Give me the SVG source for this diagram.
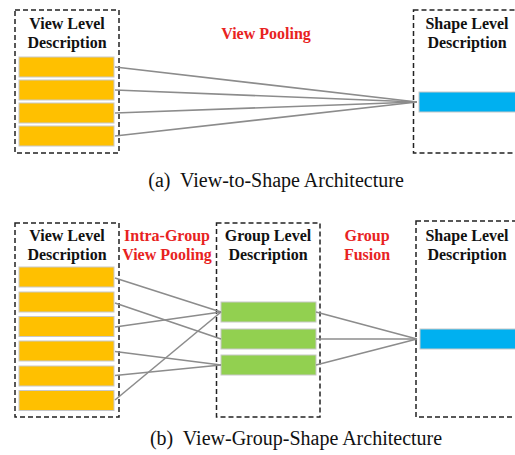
<svg xmlns="http://www.w3.org/2000/svg" width="515" height="455" viewBox="0 0 515 455">
<style>
.box{fill:none;stroke:#222;stroke-width:1.5;stroke-dasharray:5 3}
.v{fill:#FFC000;stroke:#c8c8c8;stroke-width:1}
.g{fill:#92D050;stroke:#c8c8c8;stroke-width:1}
.s{fill:#00B0F0;stroke:#c8c8c8;stroke-width:1}
.lbl{font-family:"Liberation Serif",serif;font-weight:bold;font-size:16px;fill:#111;text-anchor:middle}
.red{font-family:"Liberation Serif",serif;font-weight:bold;font-size:16px;fill:#E8231F;text-anchor:middle}
.cap{font-family:"Liberation Serif",serif;font-size:20px;fill:#111;text-anchor:middle}
.ln{stroke:#8c8c8c;stroke-width:1.6;fill:none}
</style>
<rect width="515" height="455" fill="#fff"/>
<!-- panel a -->
<g id="view-a">
<rect class="box" x="15" y="10" width="104" height="143"/>
<text class="lbl" x="67" y="29">View Level</text>
<text class="lbl" x="67" y="48">Description</text>
<rect class="v" x="19" y="57" width="95" height="20"/>
<rect class="v" x="19" y="80" width="95" height="20"/>
<rect class="v" x="19" y="103" width="95" height="20"/>
<rect class="v" x="19" y="126" width="95" height="20"/>
</g>
<g id="shape-a">
<rect class="box" x="413.5" y="10" width="110" height="143"/>
<text class="lbl" x="467" y="29">Shape Level</text>
<text class="lbl" x="467" y="48">Description</text>
<rect class="s" x="419" y="92" width="100" height="20"/>
</g>
<g id="label-a">
<text class="red" x="266" y="39">View Pooling</text>
</g>
<g id="connectors-a">
<line class="ln" x1="115" y1="67" x2="417" y2="102"/>
<line class="ln" x1="115" y1="90" x2="417" y2="102"/>
<line class="ln" x1="115" y1="113" x2="417" y2="102"/>
<line class="ln" x1="115" y1="136" x2="417" y2="102"/>
</g>
<text class="cap" x="276" y="187" xml:space="preserve">(a)  View-to-Shape Architecture</text>
<!-- panel b -->
<g id="view-b">
<rect class="box" x="15" y="223" width="104" height="194"/>
<text class="lbl" x="67" y="241">View Level</text>
<text class="lbl" x="67" y="260">Description</text>
<rect class="v" x="19" y="267" width="95" height="20"/>
<rect class="v" x="19" y="292" width="95" height="20"/>
<rect class="v" x="19" y="316.5" width="95" height="20"/>
<rect class="v" x="19" y="341" width="95" height="20"/>
<rect class="v" x="19" y="366" width="95" height="20"/>
<rect class="v" x="19" y="390.5" width="95" height="20"/>
</g>
<g id="label-b1">
<text class="red" x="167" y="241">Intra-Group</text>
<text class="red" x="167" y="260">View Pooling</text>
</g>
<g id="group-b">
<rect class="box" x="216.5" y="223" width="103.5" height="194"/>
<text class="lbl" x="268" y="241">Group Level</text>
<text class="lbl" x="268" y="260">Description</text>
<rect class="g" x="221" y="302" width="95" height="20"/>
<rect class="g" x="221" y="329" width="95" height="20"/>
<rect class="g" x="221" y="355" width="95" height="20"/>
</g>
<g id="label-b2">
<text class="red" x="367" y="241">Group</text>
<text class="red" x="367" y="260">Fusion</text>
</g>
<g id="shape-b">
<rect class="box" x="416" y="221" width="110" height="196"/>
<text class="lbl" x="467" y="241">Shape Level</text>
<text class="lbl" x="467" y="260">Description</text>
<rect class="s" x="420" y="329" width="100" height="20"/>
</g>
<g id="connectors-b">
<line class="ln" x1="115" y1="278" x2="221" y2="312"/>
<line class="ln" x1="115" y1="303" x2="221" y2="339"/>
<line class="ln" x1="115" y1="327" x2="221" y2="312"/>
<line class="ln" x1="115" y1="351.5" x2="221" y2="365"/>
<line class="ln" x1="115" y1="375.5" x2="221" y2="365"/>
<line class="ln" x1="115" y1="400" x2="221" y2="312"/>
<line class="ln" x1="316" y1="312" x2="417" y2="339"/>
<line class="ln" x1="316" y1="339" x2="417" y2="339"/>
<line class="ln" x1="316" y1="365" x2="417" y2="339"/>
</g>
<text class="cap" x="296" y="445" xml:space="preserve">(b)  View-Group-Shape Architecture</text>
</svg>
